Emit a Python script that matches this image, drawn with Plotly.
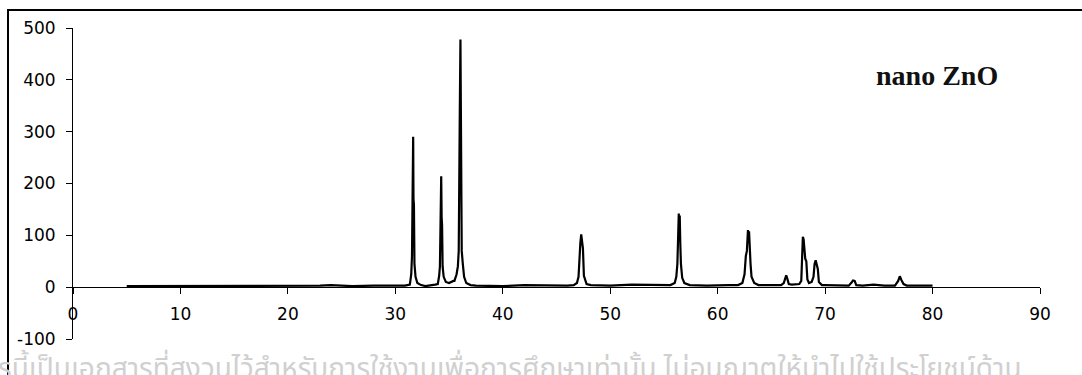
import plotly.graph_objects as go

# XRD pattern of nano ZnO: diffraction angle 2-theta (degrees) and intensity (counts)
two_theta = [
    5.0, 8.0, 11.0, 14.0, 17.0, 20.0, 23.0, 24.0, 26.0, 28.0, 30.0, 30.9,
    # (100)
    31.35, 31.48, 31.55, 31.59, 31.63, 31.66, 31.69, 31.73, 31.78, 31.88, 32.05, 32.4, 32.8, 33.3, 33.7,
    # (002)
    33.95, 34.08, 34.15, 34.19, 34.23, 34.27, 34.31, 34.35, 34.40, 34.50, 34.7, 35.0, 35.4,
    # (101)
    35.5, 35.7, 35.82, 35.9, 35.95, 36.0, 36.06, 36.1, 36.14, 36.18, 36.28, 36.4, 36.6, 37.0, 37.5,
    40.0, 42.0, 44.0, 46.0,
    # (102)
    46.6, 46.9, 47.05, 47.14, 47.22, 47.30, 47.38, 47.46, 47.55, 47.8, 48.2,
    48.5, 50.0, 52.0, 54.0, 55.2,
    # (110)
    55.6, 56.0, 56.15, 56.25, 56.32, 56.38, 56.43, 56.47, 56.52, 56.58, 56.7, 56.9, 57.4,
    59.0, 61.0,
    # (103)
    61.9, 62.3, 62.5, 62.62, 62.72, 62.82, 62.87, 62.92, 62.98, 63.06, 63.15, 63.4, 63.8,
    64.5, 65.5,
    # (200)
    65.9, 66.15, 66.3, 66.38, 66.5, 66.62, 66.9, 67.3,
    # (112) and (201)
    67.6, 67.78, 67.85, 67.93, 68.0, 68.06, 68.15, 68.25, 68.35, 68.5, 68.75,
    68.92, 69.02, 69.12, 69.2, 69.32, 69.42, 69.7,
    70.0, 71.0, 72.2,
    # (004)
    72.5, 72.6, 72.75, 72.9,
    73.5, 74.5, 75.5, 76.5,
    # (202)
    76.8, 76.95, 77.1, 77.3, 77.6,
    78.0, 79.0, 80.0,
]

intensity = [
    2, 2, 3, 2, 3, 2, 3, 4, 2, 3, 3, 3,
    5, 25, 60, 245, 260, 290, 170, 160, 45, 20, 8, 4, 2, 3, 5,
    6, 22, 40, 160, 175, 214, 135, 120, 40, 20, 10, 8, 12,
    12, 25, 40, 70, 300, 340, 478, 320, 300, 70, 45, 20, 8, 4, 3,
    2, 4, 3, 3,
    4, 8, 20, 75, 85, 102, 85, 75, 22, 6, 4,
    4, 3, 5, 4, 4,
    4, 8, 20, 45, 85, 142, 110, 138, 85, 45, 18, 8, 4,
    3, 4,
    4, 8, 25, 60, 70, 110, 85, 108, 68, 45, 20, 8, 4,
    4, 5,
    4, 8, 20, 23, 15, 6, 5, 6,
    6, 12, 60, 97, 92, 80, 55, 50, 15, 8, 10,
    20, 45, 52, 45, 35, 10, 4,
    4, 4, 3,
    10, 13, 12, 4,
    3, 5, 3, 3,
    12, 21, 14, 6, 3,
    3, 4, 3,
]

x_ticks = [0, 10, 20, 30, 40, 50, 60, 70, 80, 90]
y_ticks = [-100, 0, 100, 200, 300, 400, 500]

label_text = "nano ZnO"
notice_text = "รนี้เป็นเอกสารที่สงวนไว้สำหรับการใช้งานเพื่อการศึกษาเท่านั้น ไม่อนุญาตให้นำไปใช้ประโยชน์ด้าน"

fig = go.Figure()
fig.add_trace(go.Scatter(
    x=two_theta, y=intensity, mode="lines",
    line=dict(color="black", width=2.2),
    showlegend=False, hoverinfo="skip",
))

tick_font = dict(family="DejaVu Sans", size=17, color="black")

fig.update_layout(
    width=1082, height=375,
    margin=dict(l=73, r=42, t=28, b=36),
    paper_bgcolor="white", plot_bgcolor="white",
    xaxis=dict(
        range=[0, 90], tickvals=x_ticks, ticktext=[str(v) for v in x_ticks],
        showgrid=False, zeroline=False, showline=True, linecolor="black", linewidth=1,
        ticks="outside", ticklen=6, tickcolor="black", tickwidth=1,
        tickfont=tick_font, anchor="free", position=100 / 600,
        ticklabelstandoff=5,
    ),
    yaxis=dict(
        range=[-100, 500], tickvals=y_ticks, ticktext=[str(v) for v in y_ticks],
        showgrid=False, zeroline=False, showline=True, linecolor="black", linewidth=1,
        ticks="outside", ticklen=6, tickcolor="black", tickwidth=1,
        tickfont=tick_font, ticklabelstandoff=7,
    ),
    shapes=[dict(
        type="rect", xref="paper", yref="paper",
        x0=(8 - 73) / 967, x1=1.2, y0=-0.3, y1=(339 - 10) / 311,
        line=dict(color="black", width=2), fillcolor="rgba(0,0,0,0)", layer="below",
    )],
    annotations=[
        dict(
            x=80.4, y=408, xref="x", yref="y", text=label_text, showarrow=False,
            font=dict(family="Liberation Serif", size=28, color="#111111", weight="bold"),
        ),
        dict(
            x=(-4 - 73) / 967, y=(339 - 369) / 311, xref="paper", yref="paper",
            xanchor="left", yanchor="middle", text=notice_text, showarrow=False,
            font=dict(family="Noto Sans Thai, Loma, Garuda, Norasi, sans-serif", size=28,
                      color="#d0d0d0"),
        ),
    ],
)

fig.write_html("out.html")
